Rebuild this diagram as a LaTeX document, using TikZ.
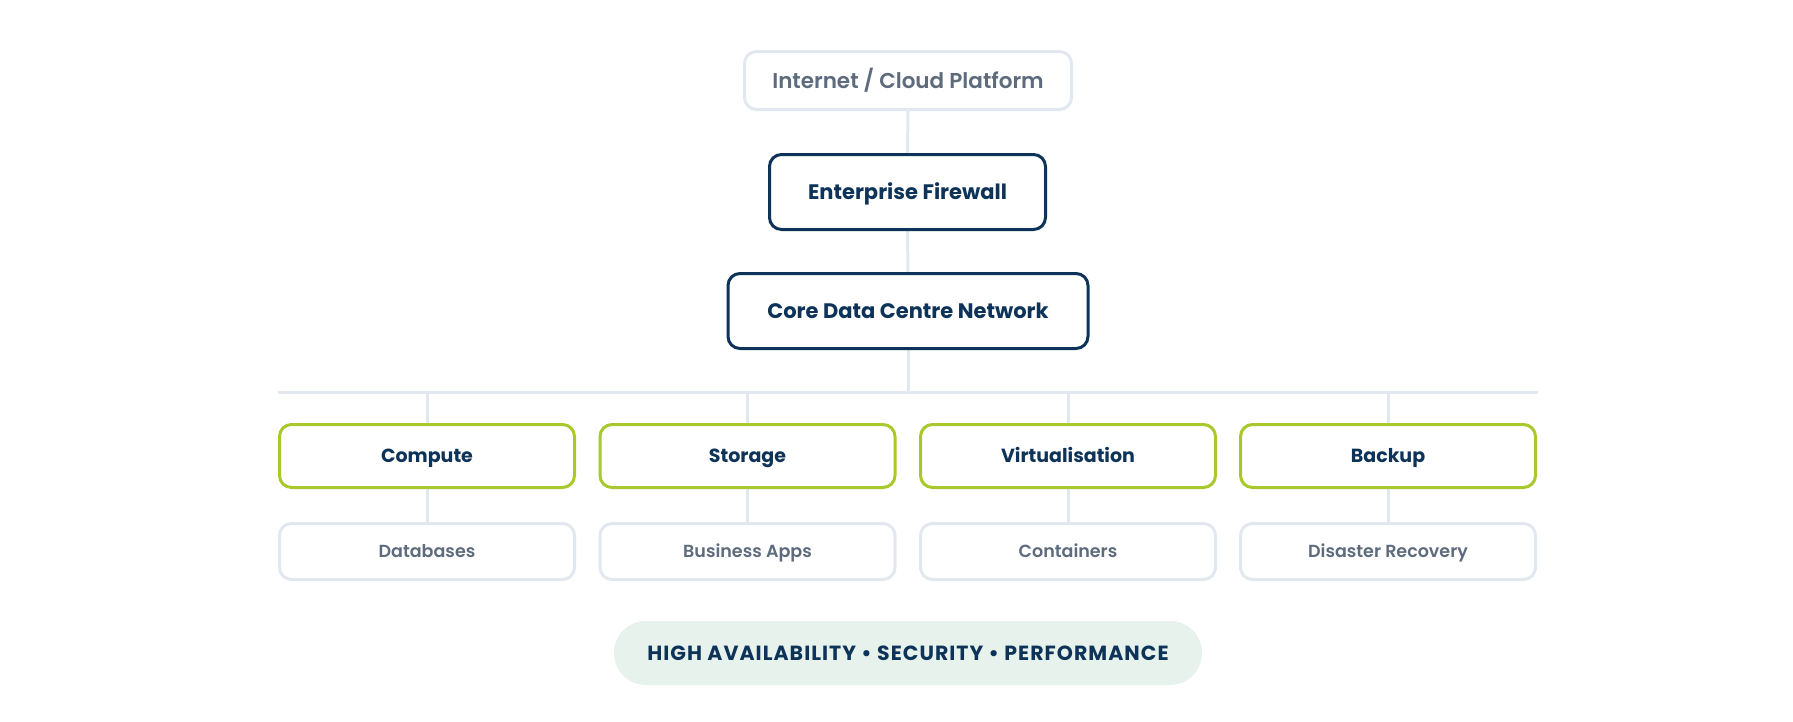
\documentclass[tikz,border=0pt]{standalone}
\usepackage{fontspec}
\usetikzlibrary{backgrounds}
\setmainfont{Poppins}
\newfontfamily\pbold{Poppins Bold}
\newfontfamily\psemi{Poppins SemiBold}
\newfontfamily\pmed{Poppins Medium}
\newfontfamily\pspaced[LetterSpace=5]{Poppins Bold}
\definecolor{navy}{HTML}{0E3358}
\definecolor{lime}{HTML}{A8C82C}
\definecolor{lgray}{HTML}{E2E8F0}
\definecolor{tgray}{HTML}{5D6B7D}
\definecolor{mint}{HTML}{E7F2EC}
\tikzset{
  conn/.style={draw=lgray, line width=3pt},
  capc/.style={text height=#1, text depth=0pt},
  topbox/.style={draw=lgray, line width=3pt, rounded corners=12pt, fill=white, text=tgray, font=\psemi\fontsize{21.5}{26}\selectfont, inner sep=0pt, capc=15pt},
  navybox/.style={draw=navy, line width=3pt, rounded corners=12pt, fill=white, text=navy, font=\pbold\fontsize{21}{25}\selectfont, inner sep=0pt, capc=14.7pt},
  greenbox/.style={draw=lime, line width=3pt, rounded corners=12pt, fill=white, text=navy, font=\pbold\fontsize{19}{23}\selectfont, inner sep=0pt, minimum width=295pt, minimum height=63pt, capc=13.3pt},
  graybox/.style={draw=lgray, line width=3pt, rounded corners=12pt, fill=white, text=tgray, font=\psemi\fontsize{17.5}{22}\selectfont, inner sep=0pt, minimum width=295pt, minimum height=56pt, capc=12.2pt},
  pill/.style={fill=mint, rounded corners=32pt, text=navy, font=\pspaced\fontsize{20.5}{24}\selectfont, inner sep=0pt, minimum width=588pt, minimum height=64pt, capc=14.3pt}
}
\begin{document}
\begin{tikzpicture}[x=1pt, y=-1pt]
\useasboundingbox (0,0) rectangle (1793,721);
\coordinate (busL) at (278,392);
\coordinate (busR) at (1538,392);
\coordinate (busM) at (908,392);
\coordinate (b1) at (427,392);
\coordinate (b2) at (747.5,392);
\coordinate (b3) at (1068,392);
\coordinate (b4) at (1388,392);

\node[topbox, minimum width=327pt, minimum height=58pt] (inet) at (908,80.5) {Internet / Cloud Platform};
\node[navybox, minimum width=276pt, minimum height=75pt] (fw) at (907.5,192) {Enterprise Firewall};
\node[navybox, minimum width=360pt, minimum height=75pt] (core) at (908,311) {Core Data Centre Network};

\node[greenbox] (g1) at (427,456) {Compute};
\node[greenbox] (g2) at (747.5,456) {Storage};
\node[greenbox] (g3) at (1068,456) {Virtualisation};
\node[greenbox] (g4) at (1388,456) {Backup};

\node[graybox] (s1) at (427,551.5) {Databases};
\node[graybox] (s2) at (747.5,551.5) {Business Apps};
\node[graybox] (s3) at (1068,551.5) {Containers};
\node[graybox] (s4) at (1388,551.5) {Disaster Recovery};

\node[pill] (tag) at (908,653) {HIGH AVAILABILITY • SECURITY • PERFORMANCE};

\begin{pgfonlayer}{background}
\fill[white] (0,0) rectangle (1793,721);
\draw[conn] (busL) -- (busR);
\draw[conn] (inet.south) -- (fw.north);
\draw[conn] (fw.south) -- (core.north);
\draw[conn] (core.south) -- (busM);
\draw[conn] (b1) -- (g1.north);
\draw[conn] (b2) -- (g2.north);
\draw[conn] (b3) -- (g3.north);
\draw[conn] (b4) -- (g4.north);
\draw[conn] (g1.south) -- (s1.north);
\draw[conn] (g2.south) -- (s2.north);
\draw[conn] (g3.south) -- (s3.north);
\draw[conn] (g4.south) -- (s4.north);
\end{pgfonlayer}
\end{tikzpicture}
\end{document}
